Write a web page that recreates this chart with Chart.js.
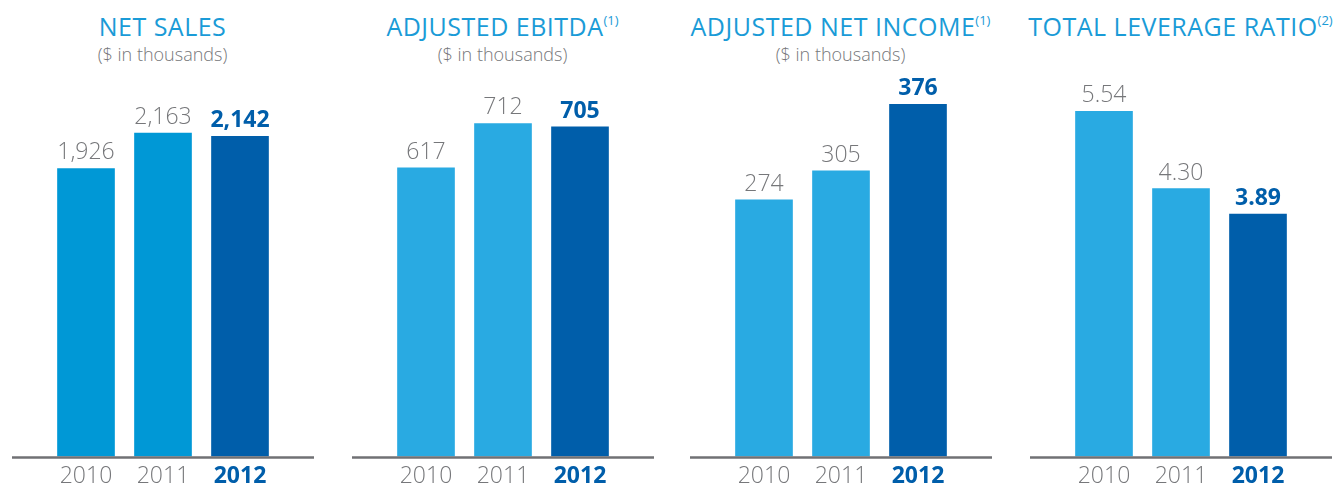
<!DOCTYPE html>
<html>
<head>
<meta charset="utf-8">
<script src="https://cdn.jsdelivr.net/npm/chart.js@4.4.1/dist/chart.umd.min.js"></script>
<style>
  body { margin: 0; width: 1340px; height: 487px; background: #fff; overflow: hidden; font-family: "Open Sans", sans-serif; }
  .panel { position: absolute; top: 0; width: 340px; height: 487px; }
  .title { position: absolute; top: 14px; left: 0; width: 100%; text-align: center; color: #1a9bd7; font-size: 25px; line-height: 25px; letter-spacing: 0.5px; white-space: nowrap; }
  .title sup { font-size: 13px; vertical-align: 0; position: relative; top: -11px; letter-spacing: 0; }
  .sub { position: absolute; top: 45px; left: 0; width: 100%; text-align: center; color: #76777a; font-size: 18px; font-weight: 300; line-height: 18px; white-space: nowrap; }
  .box { position: absolute; left: 19px; top: 60px; width: 302px; height: 436px; }
</style>
</head>
<body>

<div class="panel" style="left:-7.5px">
  <div class="title">NET SALES</div>
  <div class="sub">($ in thousands)</div>
  <div class="box"><canvas id="c1"></canvas></div>
</div>
<div class="panel" style="left:332.5px">
  <div class="title">ADJUSTED EBITDA<sup>(1)</sup></div>
  <div class="sub">($ in thousands)</div>
  <div class="box"><canvas id="c2"></canvas></div>
</div>
<div class="panel" style="left:670.5px">
  <div class="title">ADJUSTED NET INCOME<sup>(1)</sup></div>
  <div class="sub">($ in thousands)</div>
  <div class="box"><canvas id="c3"></canvas></div>
</div>
<div class="panel" style="left:1010.5px">
  <div class="title">TOTAL LEVERAGE RATIO<sup>(2)</sup></div>
  <div class="box"><canvas id="c4"></canvas></div>
</div>

<script>
const years = ['2010', '2011', '2012'];
const netSales = [1926, 2163, 2142];
const adjEbitda = [617, 712, 705];
const adjNetIncome = [274, 305, 376];
const leverageRatio = [5.54, 4.30, 3.89];

const GRAY = '#76777a';
const DARK = '#005eaa';
const FONT = '"Open Sans", sans-serif';

// numbers above the bars
const valueLabels = {
  id: 'valueLabels',
  afterDatasetsDraw(chart, args, opts) {
    const ctx = chart.ctx;
    const meta = chart.getDatasetMeta(0);
    ctx.save();
    ctx.textAlign = 'center';
    ctx.textBaseline = 'alphabetic';
    meta.data.forEach((bar, i) => {
      const v = chart.data.datasets[0].data[i];
      const last = i === meta.data.length - 1;
      ctx.font = (last ? 'bold ' : '300 ') + '23px ' + FONT;
      ctx.fillStyle = last ? DARK : GRAY;
      ctx.fillText(opts.format(v), bar.x, bar.y - 9);
    });
    ctx.restore();
  }
};

// grey baseline running past the bars
const baseline = {
  id: 'baseline',
  afterDatasetsDraw(chart) {
    const ctx = chart.ctx;
    const y = chart.scales.y.getPixelForValue(0) + 1;
    ctx.save();
    ctx.strokeStyle = '#707174';
    ctx.lineWidth = 2.5;
    ctx.beginPath();
    ctx.moveTo(0, y);
    ctx.lineTo(chart.width, y);
    ctx.stroke();
    ctx.restore();
  }
};

function makeChart(id, values, yMax, colors, format) {
  return new Chart(document.getElementById(id), {
    type: 'bar',
    data: {
      labels: years,
      datasets: [{
        data: values,
        backgroundColor: colors,
        barThickness: 57
      }]
    },
    options: {
      responsive: true,
      maintainAspectRatio: false,
      animation: false,
      layout: { padding: { top: 20, left: 35.5, right: 35.5, bottom: 0 } },
      plugins: {
        legend: { display: false },
        tooltip: { enabled: false },
        valueLabels: { format: format }
      },
      scales: {
        x: {
          grid: { display: false, drawTicks: false },
          border: { display: false },
          ticks: {
            padding: 6,
            color: (c) => c.index === 2 ? DARK : GRAY,
            font: (c) => ({ family: FONT, size: 23, weight: c.index === 2 ? 'bold' : '300' })
          }
        },
        y: { display: false, min: 0, max: yMax }
      }
    },
    plugins: [valueLabels, baseline]
  });
}

const light = '#29aae2';
const withComma = (v) => v.toLocaleString('en-US');

makeChart('c1', netSales, 2518, ['#0098d6', '#0098d6', DARK], withComma);
makeChart('c2', adjEbitda, 805, [light, light, DARK], withComma);
makeChart('c3', adjNetIncome, 402, [light, light, DARK], withComma);
makeChart('c4', leverageRatio, 6.045, [light, light, DARK], (v) => v.toFixed(2));
</script>
</body>
</html>
